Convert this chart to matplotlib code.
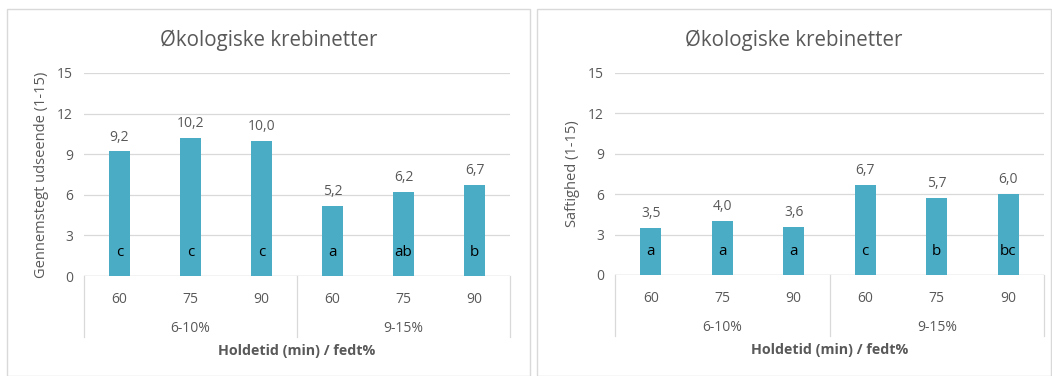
import matplotlib.pyplot as plt
from matplotlib.patches import Rectangle

# data
holdetid = ["60", "75", "90", "60", "75", "90"]
grupper = ["6-10%", "9-15%"]
udseende = [9.2, 10.2, 10.0, 5.2, 6.2, 6.7]
udseende_bogst = ["c", "c", "c", "a", "ab", "b"]
saftighed = [3.5, 4.0, 3.6, 6.7, 5.7, 6.0]
saftighed_bogst = ["a", "a", "a", "c", "b", "bc"]

plt.rcParams['font.family'] = ['Open Sans', 'DejaVu Sans']
GRAY = '#595959'
BAR = '#4BACC6'
W, H = 1052, 376

fig = plt.figure(figsize=(W / 100, H / 100), dpi=100)


def px(x0, y0, x1, y1):
    return [x0 / W, 1 - y1 / H, (x1 - x0) / W, (y1 - y0) / H]


def tegn(ax, vaerdier, bogst, ylabel, panel):
    x = list(range(len(vaerdier)))
    ax.bar(x, vaerdier, width=0.30, color=BAR, zorder=3)
    for xi, v, b in zip(x, vaerdier, bogst):
        ax.annotate(f"{v:.1f}".replace(".", ","), (xi, v), xytext=(0, 5),
                    textcoords='offset points', ha='center', va='bottom',
                    fontsize=10, color=GRAY)
        ax.text(xi, 1.75, b, ha='center', va='center', fontsize=11, color='black', zorder=4)
    ax.set_xlim(-0.5, len(vaerdier) - 0.5)
    ax.set_ylim(0, 15)
    ax.set_yticks(range(0, 16, 3))
    ax.tick_params(axis='y', length=0, labelsize=10, labelcolor=GRAY, pad=8)
    ax.set_xticks([])
    ax.grid(axis='y', color='#D9D9D9', lw=0.9, zorder=0)
    for s in ax.spines.values():
        s.set_visible(False)
    ax.axhline(0, color='#D9D9D9', lw=1, zorder=2)
    ax.set_ylabel(ylabel, fontsize=10.5, color=GRAY, labelpad=6)
    # kategoriakse i to niveauer
    for xi, lab in zip(x, holdetid):
        ax.text(xi, -0.116, lab, transform=ax.get_xaxis_transform(),
                ha='center', va='center', fontsize=10, color=GRAY)
    for i, g in enumerate(grupper):
        ax.text(i * 3 + 1, -0.26, g, transform=ax.get_xaxis_transform(),
                ha='center', va='center', fontsize=10, color=GRAY)
    for xs in (-0.5, 2.5, 5.5):
        ax.plot([xs, xs], [0, -0.30], transform=ax.get_xaxis_transform(),
                color='#D9D9D9', lw=0.9, clip_on=False)
    ax.text(0.5, -0.37, "Holdetid (min) / fedt%", transform=ax.transAxes,
            ha='center', va='center', fontsize=10.3, fontweight='bold', color=GRAY)
    # ramme og titel
    p0, p1 = panel
    fig.patches.append(Rectangle((p0 / W, 0), (p1 - p0) / W, 1 - 9 / H,
                                 transform=fig.transFigure, fill=False,
                                 edgecolor='#D9D9D9', lw=1))
    fig.text((p0 + p1) / 2 / W, 1 - 40 / H, "Økologiske krebinetter",
             ha='center', va='center', fontsize=14.8, color=GRAY)


ax1 = fig.add_axes(px(84, 73, 510, 276))
tegn(ax1, udseende, udseende_bogst, "Gennemstegt udseende (1-15)", (7, 530))

ax2 = fig.add_axes(px(615, 73, 1044, 275))
tegn(ax2, saftighed, saftighed_bogst, "Saftighed (1-15)", (537, 1051))

fig.savefig("out.png", dpi=100)
